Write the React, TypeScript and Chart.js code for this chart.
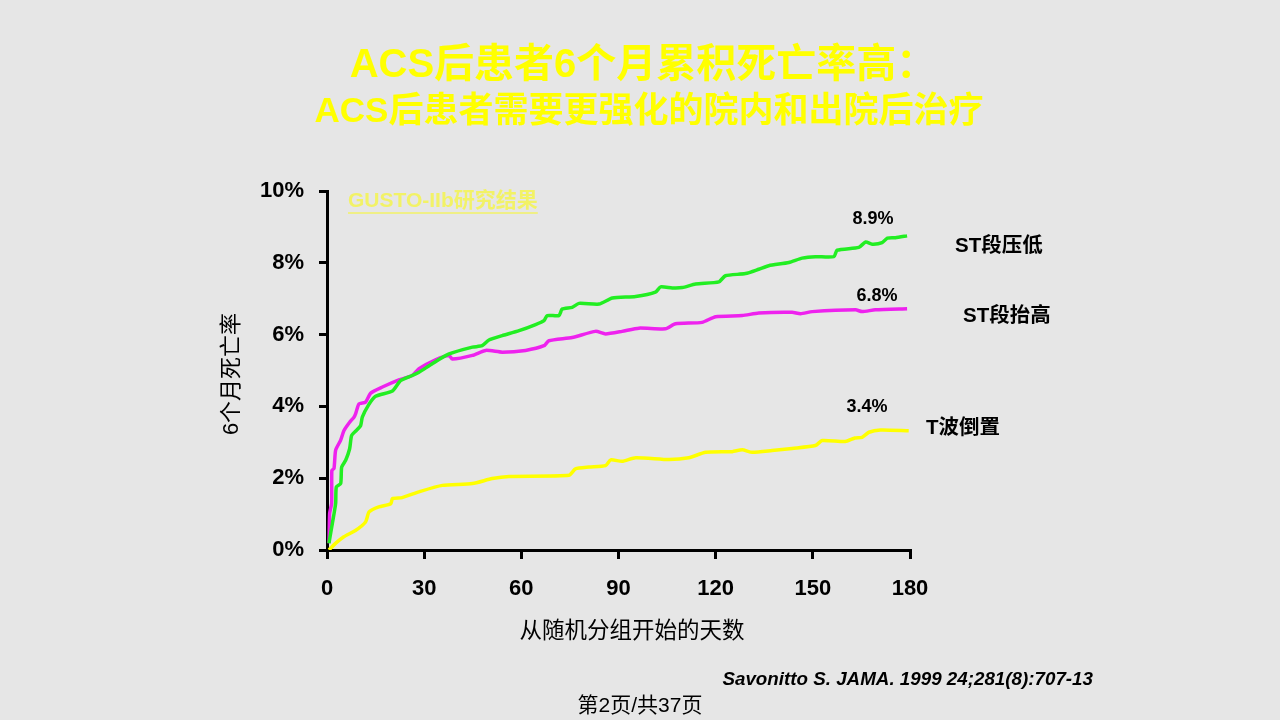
import React, { useEffect, useRef } from "react";
import { Chart, registerables } from "chart.js";

Chart.register(...registerables);

// ---- data ----
const dayTicks = [0, 30, 60, 90, 120, 150, 180];
const percentTicks = [0, 2, 4, 6, 8, 10];

const stDepDays = [0.6, 1.65, 2.67, 2.88, 4.22, 4.53, 5.76, 6.99, 7.6, 9.05, 10.4, 10.9, 12.76, 15.0, 20.2, 22.7, 26.3, 28.4, 32.5, 37.7, 44.9, 47.9, 50.0, 54.1, 59.3, 64.4, 67.0, 68.0, 71.6, 72.6, 75.7, 77.8, 84.0, 88.1, 95.3, 101.4, 103.0, 106.6, 109.7, 113.8, 121.0, 123.0, 129.2, 133.3, 136.4, 142.6, 146.7, 150.8, 156.5, 157.5, 164.2, 166.3, 168.3, 171.4, 173.0, 175.5, 179.1];
const stDepRates = [0.19, 0.74, 1.3, 1.76, 1.85, 2.31, 2.5, 2.82, 3.19, 3.33, 3.47, 3.7, 4.03, 4.28, 4.43, 4.72, 4.86, 4.95, 5.19, 5.46, 5.65, 5.69, 5.85, 5.97, 6.11, 6.28, 6.39, 6.53, 6.53, 6.71, 6.76, 6.87, 6.85, 7.02, 7.06, 7.18, 7.33, 7.3, 7.31, 7.41, 7.47, 7.64, 7.7, 7.82, 7.92, 8.01, 8.13, 8.17, 8.17, 8.35, 8.43, 8.58, 8.52, 8.56, 8.69, 8.7, 8.75];

const stEleDays = [0.62, 0.82, 1.44, 1.5, 2.16, 2.67, 4.22, 5.25, 6.99, 8.33, 8.85, 9.88, 11.9, 13.5, 17.1, 22.2, 26.3, 28.4, 33.5, 37.7, 38.7, 44.9, 49.0, 54.1, 61.3, 67.0, 68.5, 75.7, 82.9, 86.0, 91.1, 96.3, 104.5, 107.6, 115.8, 120.0, 128.2, 133.3, 143.6, 146.2, 149.8, 163.2, 165.2, 169.3, 179.1];
const stEleRates = [0.19, 1.02, 1.3, 2.22, 2.27, 2.78, 3.06, 3.33, 3.56, 3.7, 3.8, 4.07, 4.12, 4.37, 4.54, 4.74, 4.86, 5.05, 5.3, 5.42, 5.32, 5.42, 5.56, 5.51, 5.56, 5.69, 5.83, 5.92, 6.09, 6.02, 6.09, 6.18, 6.16, 6.3, 6.34, 6.5, 6.53, 6.6, 6.62, 6.58, 6.64, 6.69, 6.64, 6.69, 6.72];

const tInvDays = [0.6, 2.7, 5.2, 8.9, 11.9, 13.0, 16.0, 19.7, 20.2, 23.2, 28.4, 35.6, 44.9, 51.0, 56.2, 74.7, 76.7, 80.9, 86.0, 87.6, 91.1, 95.3, 105.6, 111.7, 116.9, 125.1, 128.2, 131.3, 137.4, 143.6, 150.8, 152.9, 160.0, 163.0, 165.2, 167.3, 170.9, 179.6];
const tInvRates = [0.0, 0.19, 0.37, 0.55, 0.78, 1.06, 1.2, 1.29, 1.43, 1.46, 1.62, 1.8, 1.85, 1.99, 2.05, 2.08, 2.26, 2.31, 2.35, 2.51, 2.47, 2.57, 2.52, 2.57, 2.72, 2.74, 2.79, 2.72, 2.77, 2.83, 2.91, 3.05, 3.02, 3.12, 3.14, 3.28, 3.34, 3.32];

const seriesNames = ["ST段压低", "ST段抬高", "T波倒置"];
const endLabels = ["8.9%", "6.8%", "3.4%"];
const seriesColors = ["#22ee22", "#ee22ee", "#ffff00"];

const titleLine1 = "ACS后患者6个月累积死亡率高：";
const titleLine2 = "ACS后患者需要更强化的院内和出院后治疗";
const studyNote = "GUSTO-IIb研究结果";
const yTitle = "6个月死亡率";
const xTitle = "从随机分组开始的天数";
const citation = "Savonitto S. JAMA. 1999 24;281(8):707-13";
const pageNote = "第2页/共37页";

const FAM = '"Liberation Sans", "Noto Sans CJK SC", Arial, sans-serif';

const toPoints = (xs: number[], ys: number[]) => xs.map((x, i) => ({ x, y: ys[i] }));

const slideText = {
  id: "slideText",
  beforeDraw(chart: any) {
    const ctx = chart.ctx;
    ctx.save();
    ctx.fillStyle = "#e6e6e6";
    ctx.fillRect(0, 0, chart.width, chart.height);
    ctx.restore();
  },
  afterDraw(chart: any) {
    const ctx = chart.ctx as CanvasRenderingContext2D;
    ctx.save();
    ctx.textBaseline = "middle";

    // title
    ctx.fillStyle = "#ffff00";
    ctx.textAlign = "center";
    ctx.font = `bold 40px ${FAM}`;
    ctx.fillText(titleLine1, 643, 66);
    ctx.font = `bold 35px ${FAM}`;
    ctx.fillText(titleLine2, 649, 112);

    // study note
    ctx.textAlign = "left";
    ctx.fillStyle = "#f2f266";
    ctx.font = `bold 21px ${FAM}`;
    ctx.fillText(studyNote, 348, 201);
    const w = ctx.measureText(studyNote).width;
    ctx.strokeStyle = "#f2f266";
    ctx.lineWidth = 1.5;
    ctx.beginPath();
    ctx.moveTo(348, 213);
    ctx.lineTo(348 + w, 213);
    ctx.stroke();

    // end values
    ctx.fillStyle = "#000";
    ctx.textAlign = "center";
    ctx.font = `bold 18px ${FAM}`;
    ctx.fillText(endLabels[0], 873, 219);
    ctx.fillText(endLabels[1], 877, 296);
    ctx.fillText(endLabels[2], 867, 407);

    // series names
    ctx.textAlign = "left";
    ctx.font = `bold 20.5px ${FAM}`;
    ctx.fillText(seriesNames[0], 955, 246);
    ctx.fillText(seriesNames[1], 963, 316);
    ctx.fillText(seriesNames[2], 926, 428);

    // axis titles
    ctx.font = `22.5px ${FAM}`;
    ctx.textAlign = "center";
    ctx.fillText(xTitle, 632, 632);
    ctx.save();
    ctx.translate(232, 374);
    ctx.rotate(-Math.PI / 2);
    ctx.font = `22px ${FAM}`;
    ctx.fillText(yTitle, 0, 0);
    ctx.restore();

    // citation
    ctx.textAlign = "right";
    ctx.font = `italic bold 18.8px ${FAM}`;
    ctx.fillText(citation, 1093, 680);

    // page note
    ctx.textAlign = "center";
    ctx.font = `21px ${FAM}`;
    ctx.fillText(pageNote, 640, 706);

    ctx.restore();
  },
};

export default function App() {
  const ref = useRef<HTMLCanvasElement | null>(null);

  useEffect(() => {
    if (!ref.current) return;
    const tickFont = { family: FAM, size: 22, weight: "bold" as const };
    const chart = new Chart(ref.current, {
      type: "line",
      data: {
        datasets: [
          { label: seriesNames[0], data: toPoints(stDepDays, stDepRates), borderColor: seriesColors[0] },
          { label: seriesNames[1], data: toPoints(stEleDays, stEleRates), borderColor: seriesColors[1] },
          { label: seriesNames[2], data: toPoints(tInvDays, tInvRates), borderColor: seriesColors[2] },
        ].map((d) => ({ ...d, borderWidth: 3.5, pointRadius: 0, tension: 0.2, fill: false })),
      },
      options: {
        animation: false,
        responsive: false,
        maintainAspectRatio: false,
        layout: { padding: { left: 0, right: 370, top: 191, bottom: 110 } },
        plugins: { legend: { display: false }, tooltip: { enabled: false }, title: { display: false } },
        scales: {
          x: {
            type: "linear",
            min: 0,
            max: 180,
            afterBuildTicks: (s: any) => {
              s.ticks = dayTicks.map((v) => ({ value: v }));
            },
            afterFit: (s: any) => {
              s.height = 60;
            },
            border: { color: "#000", width: 3 },
            grid: { drawOnChartArea: false, drawTicks: true, tickLength: 9, color: "#000", lineWidth: 3 },
            ticks: { font: tickFont, color: "#000", padding: 17, maxRotation: 0 },
          },
          y: {
            type: "linear",
            min: 0,
            max: 10,
            afterBuildTicks: (s: any) => {
              s.ticks = percentTicks.map((v) => ({ value: v }));
            },
            afterFit: (s: any) => {
              s.width = 327;
            },
            border: { color: "#000", width: 3 },
            grid: { drawOnChartArea: false, drawTicks: true, tickLength: 8, color: "#000", lineWidth: 3 },
            ticks: { font: tickFont, color: "#000", padding: 15, callback: (v: any) => `${v}%` },
          },
        },
      },
      plugins: [slideText],
    });
    return () => chart.destroy();
  }, []);

  return (
    <div style={{ position: "fixed", left: 0, top: 0, width: 1280, height: 720, background: "#e6e6e6" }}>
      <canvas ref={ref} width={1280} height={720} style={{ width: 1280, height: 720, display: "block" }} />
    </div>
  );
}
